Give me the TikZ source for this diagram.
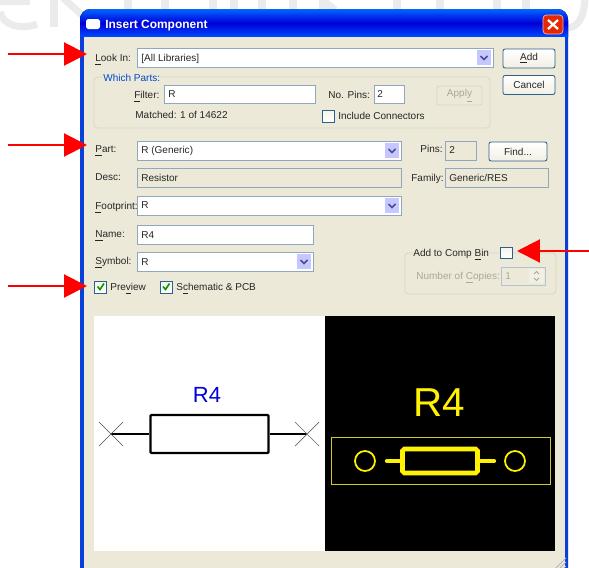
\documentclass[tikz,border=0pt]{standalone}
\usepackage{fontspec}
\setmainfont{Liberation Sans}
\usetikzlibrary{arrows.meta}
\definecolor{dlgface}{HTML}{ECE9D8}
\definecolor{dlgedge}{HTML}{8FA8BF}
\definecolor{dlgblue}{HTML}{0A3FDC}
\definecolor{btnedge}{HTML}{2F5F8C}
\definecolor{grpedge}{HTML}{DAD7C6}
\definecolor{dimtext}{HTML}{ACA899}
\definecolor{markgray}{HTML}{EBEBEB}
\tikzset{
  uilabel/.style={anchor=west,inner sep=0pt,font=\fontsize{5.7}{7}\selectfont,text height=5pt,text depth=0.8pt,text=black!85},
  dimlabel/.style={uilabel,text=dimtext},
  fieldbox/.style={draw=dlgedge,line width=0.5pt,fill=white},
  grayfield/.style={draw=dlgedge,line width=0.5pt,fill=dlgface},
  groupbox/.style={draw=grpedge,line width=0.5pt,rounded corners=2pt},
  uibutton/.style={draw=btnedge,line width=0.5pt,rounded corners=1.2pt,top color=white,bottom color=dlgface!70,
    inner sep=0pt,minimum height=0.38cm,font=\fontsize{5.7}{7}\selectfont,text=black!85},
  tickbox/.style={draw=btnedge,line width=0.5pt,top color=dlgface!50,bottom color=white},
  tickmark/.style={draw=green!60!black,line width=0.9pt},
  redarrow/.style={draw=red,line width=1.2pt,-{Triangle[length=0.46cm,width=0.46cm]}},
  markstroke/.style={draw=markgray,line width=4pt}
}
\begin{document}
\begin{tikzpicture}[x=0.02cm,y=-0.02cm]
\useasboundingbox (0,0) rectangle (589,568);
\clip (0,0) rectangle (589,568);
\fill[white] (0,0) rectangle (589,568);
\begin{scope}
  \draw[markstroke] (37,24) .. controls (22,30) and (3,26) .. (0,12);
  \draw[markstroke] (0,1) -- (30,1);
  \draw[markstroke] (54,-2) -- (54,27);
  \draw[markstroke] (63,-2) -- (82,15);
  \foreach \wx in {128,165,213,234,262,293,323,397,440,497,526}
    \draw[markstroke] (\wx,-2) -- (\wx,10);
  \draw[markstroke] (323,0) -- (335,10);
  \draw[markstroke] (568,28) .. controls (578,27) and (584,18) .. (585,-2);
\end{scope}
\draw[fill=dlgblue,draw=none,rounded corners=6] (80,568) -- (80,9) -- (568,9) -- (568,568);
\fill[top color=blue!60!cyan,bottom color=blue!70!cyan,middle color=blue!85!black,rounded corners=6]
  (80,37) -- (80,9) -- (568,9) [sharp corners] -- (568,37) -- cycle;
\fill[dlgface] (84,37) rectangle (565,568);
\fill[white,rounded corners=1] (86,19) rectangle (100,29);
\node[anchor=west,inner sep=0pt,text=white,font=\fontsize{6.8}{8}\selectfont\bfseries] (title) at (105,26) {Insert Component};
\fill[red!65!orange!90!black,rounded corners=2,draw=white!70!red,line width=0.4pt] (543,15) rectangle (563,34);
\draw[white,line width=1.3pt] (548,20) -- (558,29) (558,20) -- (548,29);

\draw[groupbox] (94,77) rectangle (490,128);
\draw[groupbox] (405,253) rectangle (556,294);
\draw[fieldbox] (137,48) rectangle (493,67);
\draw[fieldbox] (164,85) rectangle (315,103);
\draw[fieldbox] (374,85) rectangle (404,103);
\draw[fieldbox] (137,141) rectangle (401,160);
\draw[grayfield] (445,141) rectangle (476,160);
\draw[grayfield] (137,168) rectangle (401,187);
\draw[grayfield] (445,168) rectangle (548,187);
\draw[fieldbox] (137,196) rectangle (401,215);
\draw[fieldbox] (137,225) rectangle (313,244);
\draw[fieldbox] (137,252) rectangle (313,271);
\draw[grayfield,draw=dlgedge!70] (501,267) rectangle (545,285);
\foreach \bx/\by in {477/50,385/143,385/198,297/254} {
  \fill[blue!22!white] (\bx,\by) rectangle (\bx+14,\by+15);
  \draw[blue!40!black!70,line width=1pt] (\bx+3.5,\by+6) -- (\bx+7,\by+9.5) -- (\bx+10.5,\by+6);
}
\fill[dlgface!70!white] (529,269) rectangle (544,283);
\draw[dimtext,line width=0.5pt] (534,274) -- (536.5,271.5) -- (539,274) (534,278) -- (536.5,280.5) -- (539,278);

\node[uilabel] (lookin) at (95,58) {\underline{L}ook In:};
\node[uilabel] (lookval) at (141,58) {[All Libraries]};
\node[uilabel,fill=dlgface,text=blue!65!cyan!80!black] (which) at (103,78) {Which Parts:};
\node[uilabel] (filter) at (134,95) {\underline{F}ilter:};
\node[uilabel] (filterval) at (168,94) {R};
\node[uilabel] (matched) at (135,115) {Matched: 1 of 14622};
\node[uilabel] (nopins) at (328,95) {No. Pins:};
\node[uilabel] (nopinsval) at (377,94) {2};
\node[uilabel] (inclconn) at (338,116) {Include Connectors};
\node[uilabel] (part) at (95,149) {\underline{P}art:};
\node[uilabel] (partval) at (141,150) {R (Generic)};
\node[uilabel] (pins) at (420,149) {Pins:};
\node[uilabel] (pinsval) at (449,150) {2};
\node[uilabel] (desc) at (95,177) {Desc:};
\node[uilabel] (descval) at (141,178) {Resistor};
\node[uilabel] (family) at (411,178) {Family:};
\node[uilabel] (familyval) at (449,178) {Generic/RES};
\node[uilabel] (footprint) at (95,206) {\underline{F}ootprint:};
\node[uilabel] (footval) at (141,205) {R};
\node[uilabel] (name) at (95,234) {\underline{N}ame:};
\node[uilabel] (nameval) at (141,235) {R4};
\node[uilabel] (symbol) at (95,261) {\underline{S}ymbol:};
\node[uilabel] (symval) at (141,262) {R};
\node[uilabel] (preview) at (110,287) {Pre\underline{v}iew};
\node[uilabel] (schempcb) at (176,287) {S\underline{c}hematic \& PCB};
\node[uilabel,fill=dlgface] (compbin) at (413,253) {Add to Comp \underline{B}in};
\node[dimlabel] (copies) at (416,276) {Number of \underline{C}opies:};
\node[dimlabel] (copiesval) at (505,276) {1};

\node[uibutton,minimum width=1.04cm] (addbtn) at (529,58.5) {\underline{A}dd};
\node[uibutton,minimum width=1.04cm] (cancelbtn) at (529,85) {Cancel};
\node[uibutton,minimum width=1.16cm] (findbtn) at (518,151.5) {Find...};
\node[uibutton,minimum width=0.9cm,draw=grpedge,top color=dlgface,bottom color=dlgface,text=dimtext] (applybtn) at (459.5,95.5) {Appl\underline{y}};

\draw[tickbox] (322,110) rectangle (334,122);
\draw[tickbox] (500,247) rectangle (512,258);
\draw[tickbox] (94.5,281) rectangle (106.5,293);
\draw[tickbox] (160,281) rectangle (172,293);
\draw[tickmark] (97.5,286.5) -- (100,289.5) -- (104,283.5);
\draw[tickmark] (163,286.5) -- (165.5,289.5) -- (169.5,283.5);

\fill[white] (94,316) rectangle (325,551);
\fill[black] (325,316) rectangle (555,551);

\node[draw=black,line width=1.3pt,fill=white,minimum width=2.36cm,minimum height=0.76cm,inner sep=0pt,rounded corners=0.5pt] (resbody) at (209.5,434) {};
\coordinate (pinleft) at (111,434);
\coordinate (pinright) at (307,434);
\draw[black,line width=1.3pt] (pinleft) -- (resbody.west);
\draw[black,line width=1.3pt] (resbody.east) -- (pinright);
\draw[black!70,line width=0.4pt] (99,422) -- (123,446) (99,446) -- (123,422);
\draw[black!60,line width=0.4pt] (295,422) -- (319,446) (295,446) -- (319,422);
\node[inner sep=0pt,text=blue!85!black,font=\fontsize{12.5}{14}\selectfont] (schemname) at (207,395) {R4};

\node[inner sep=0pt,text=yellow,font=\fontsize{23}{26}\selectfont] (pcbname) at (439,403) {R4};
\draw[yellow!80!black,line width=0.5pt] (331,437) rectangle (550,484);
\node[draw=yellow,line width=1pt,circle,minimum size=0.4cm,inner sep=0pt] (padleft) at (365,461) {};
\node[draw=yellow,line width=1pt,circle,minimum size=0.4cm,inner sep=0pt] (padright) at (515,461) {};
\node[draw=yellow,line width=2.6pt,minimum width=1.5cm,minimum height=0.48cm,inner sep=0pt,rounded corners=1pt] (pcbbody) at (440,461) {};
\coordinate (leadleft) at (387,461);
\coordinate (leadright) at (494,461);
\draw[yellow,line width=2.4pt,line cap=round] (leadleft) -- (pcbbody.west);
\draw[yellow,line width=2.4pt,line cap=round] (pcbbody.east) -- (leadright);

\foreach \gx in {0,4,8}
  \draw[black!30,line width=0.5pt] (556+\gx,568) -- (566,558+\gx);

\coordinate (tail1) at (8,54);
\coordinate (head1) at (87,54);
\coordinate (tail2) at (8,145);
\coordinate (head2) at (87,145);
\coordinate (tail3) at (8,286);
\coordinate (head3) at (87,286);
\coordinate (tail4) at (589,251);
\coordinate (head4) at (517,251);
\draw[redarrow] (tail1) -- (head1);
\draw[redarrow] (tail2) -- (head2);
\draw[redarrow] (tail3) -- (head3);
\draw[redarrow] (tail4) -- (head4);
\end{tikzpicture}
\end{document}
